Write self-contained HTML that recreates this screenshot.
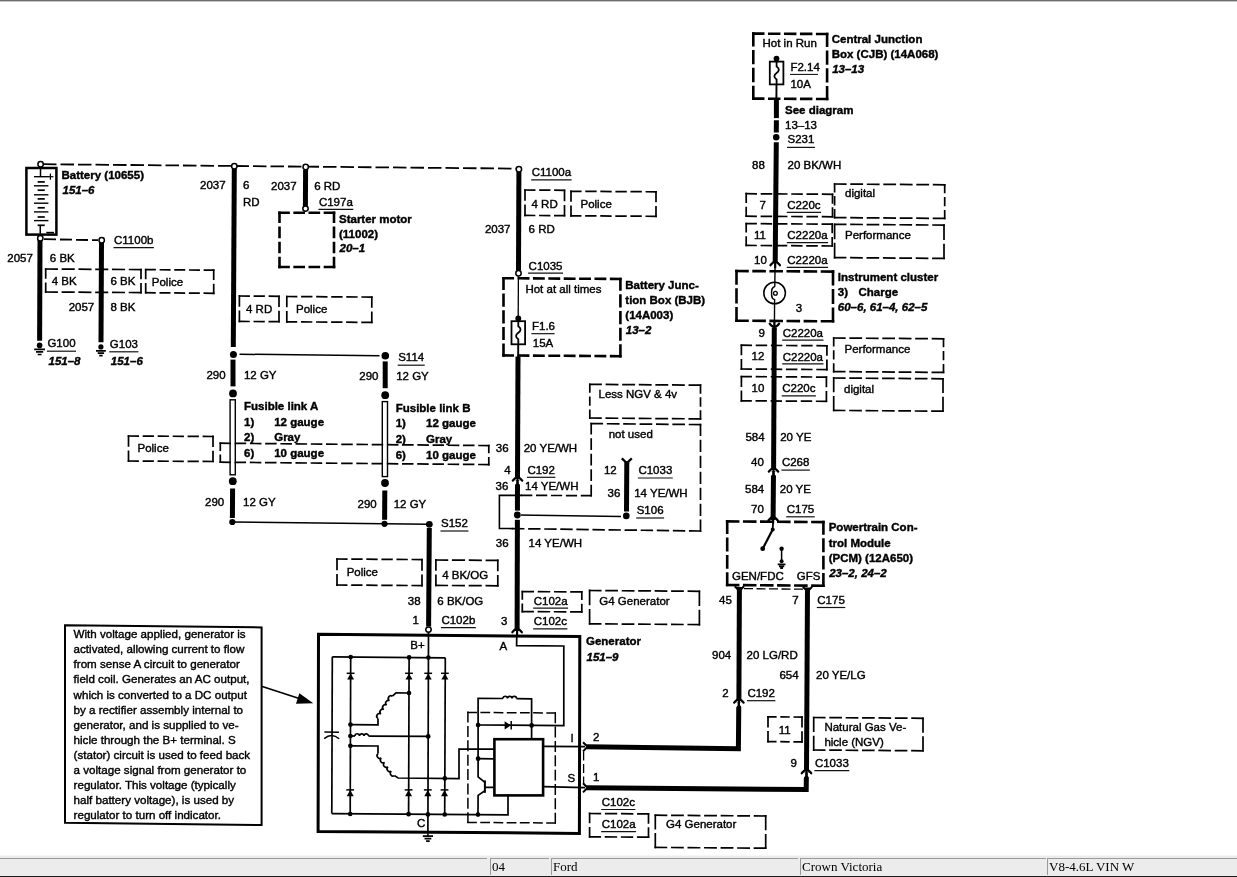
<!DOCTYPE html>
<html><head><meta charset="utf-8"><title>Charging system wiring diagram</title>
<style>
html,body{margin:0;padding:0;background:#fff;}
body{width:1237px;height:877px;overflow:hidden;position:relative;font-family:"Liberation Sans",sans-serif;}
svg{position:absolute;left:0;top:0;will-change:transform;}
svg text{font-family:"Liberation Sans",sans-serif;font-size:11.5px;fill:#000;stroke:#000;stroke-width:0.4px;}
svg text.b{font-weight:bold;}
svg text.i{font-style:italic;}
.w{stroke:#000;stroke-width:5;fill:none;stroke-linejoin:miter;}
.l{stroke:#000;fill:none;}
.d{stroke:#000;fill:none;}
.ul{stroke:#111;stroke-width:1.2;fill:none;}
.o{fill:#fff;stroke:#000;stroke-width:1.5;}
#top{position:absolute;left:0;top:0;width:1237px;height:1px;background:#6b6b6b;border-bottom:1px solid #c8c8c8;}
#sb{position:absolute;left:0;top:855px;width:1237px;height:20px;background:#ececec;border-top:1px solid #f6f6f6;border-bottom:2px solid #1c1c1c;font-family:"Liberation Serif",serif;font-size:13px;color:#000;will-change:transform;}
#sb div{position:absolute;top:2px;height:17px;border-left:1px solid #9a9a9a;border-top:1px solid #9a9a9a;line-height:16px;padding-left:1px;box-sizing:border-box;white-space:nowrap;}
</style></head><body>
<svg width="1237" height="877" viewBox="0 0 1237 877">
<path class="d" stroke-width="1.8" stroke-dasharray="13.5 4" d="M43 164.2L516 168.6"/>
<rect class="l" stroke-width="2.5" fill="#fff" x="26.4" y="168" width="30" height="66.6"/>
<path class="l" stroke-width="1.5" d="M40.5 166.0 L40.5 176.7"/>
<path class="l" stroke-width="1.5" d="M40.3 225.3 L40.2 236.0"/>
<path class="l" stroke-width="1.4" d="M34.0 176.7 L48.4 176.7"/>
<path class="l" stroke-width="1.7" d="M37.6 181.9 L44.8 181.9"/>
<path class="l" stroke-width="1.4" d="M34.0 185.8 L48.4 185.8"/>
<path class="l" stroke-width="1.7" d="M37.6 190.2 L44.8 190.2"/>
<path class="l" stroke-width="1.4" d="M34.0 194.8 L48.4 194.8"/>
<path class="l" stroke-width="1.7" d="M37.6 198.9 L44.8 198.9"/>
<path class="l" stroke-width="1.4" d="M34.0 203.2 L48.4 203.2"/>
<path class="l" stroke-width="1.7" d="M37.6 207.8 L44.8 207.8"/>
<path class="l" stroke-width="1.4" d="M34.0 211.9 L48.4 211.9"/>
<path class="l" stroke-width="1.7" d="M37.6 217.0 L44.8 217.0"/>
<path class="l" stroke-width="1.4" d="M34.0 220.6 L48.4 220.6"/>
<path class="l" stroke-width="1.7" d="M37.6 225.3 L44.8 225.3"/>
<path class="l" stroke-width="1.2" d="M48.0 176.7 L53.4 176.7"/>
<path class="l" stroke-width="1.2" d="M50.4 173.4 L50.4 179.8"/>
<path class="l" stroke-width="1.6" d="M46.3 232.6 L54.0 232.6"/>
<circle class="o" cx="40.6" cy="164.2" r="2.7"/>
<text x="61.5" y="178.7" class="b">Battery (10655)</text>
<text x="62.5" y="193.7" class="b i">151–6</text>
<path class="w" d="M40.0 240.0 L39.6 340.8"/>
<circle class="o" cx="40.3" cy="238.3" r="2.7"/>
<path class="d" stroke-width="1.8" stroke-dasharray="12 4" d="M44 239.2L98 240.2"/>
<path class="w" d="M101.5 243.0 L101.0 342.2"/>
<circle class="o" cx="101.7" cy="240.3" r="2.7"/>
<text x="114.0" y="243.5">C1100b</text>
<path class="ul" d="M113.5 247.7H153.9"/>
<text x="7.3" y="261.6">2057</text>
<text x="49.8" y="261.6">6 BK</text>
<path class="d" stroke-width="1.7" stroke-dasharray="13.08 3.70" d="M44.9 269.0L141.8 269.6"/>
<path class="d" stroke-width="1.7" stroke-dasharray="10.50 3.70" d="M141.0 268.8L141.0 293.5"/>
<path class="d" stroke-width="1.7" stroke-dasharray="13.08 3.70" d="M141.8 292.6L44.9 292.0"/>
<path class="d" stroke-width="1.7" stroke-dasharray="10.50 3.70" d="M45.7 292.9L45.7 268.1"/>
<path class="d" stroke-width="1.7" stroke-dasharray="10.98 3.70" d="M144.9 269.6L214.5 270.2"/>
<path class="d" stroke-width="1.7" stroke-dasharray="10.55 3.70" d="M213.7 269.4L213.7 294.2"/>
<path class="d" stroke-width="1.7" stroke-dasharray="10.98 3.70" d="M214.5 293.3L144.9 292.7"/>
<path class="d" stroke-width="1.7" stroke-dasharray="10.55 3.70" d="M145.7 293.6L145.7 268.8"/>
<text x="51.7" y="284.8">4 BK</text>
<text x="110.5" y="285.2">6 BK</text>
<text x="151.8" y="285.5">Police</text>
<text x="68.7" y="310.8">2057</text>
<text x="110.5" y="311.2">8 BK</text>
<circle cx="39.6" cy="345.4" r="2.8"/>
<path class="l" stroke-width="1.7" d="M34.2 349.3H45.0M36.0 351.9H43.2M37.7 354.5H41.5"/>
<circle cx="100.9" cy="346.9" r="2.6"/>
<path class="l" stroke-width="1.7" d="M96.0 350.9H105.8M97.7 353.2H104.1M99.2 355.6H102.6"/>
<text x="47.4" y="347.2">G100</text>
<path class="ul" d="M46.9 351.2H76.0"/>
<text x="48.5" y="364.5" class="b i">151–8</text>
<text x="109.8" y="347.8">G103</text>
<path class="ul" d="M109.3 351.8H138.4"/>
<text x="110.8" y="365.1" class="b i">151–6</text>
<path class="w" d="M234.3 169.0 L233.3 347.0"/>
<circle class="o" cx="234.3" cy="166.3" r="2.7"/>
<text x="200.0" y="188.9">2037</text>
<text x="243.0" y="188.9">6</text>
<text x="243.0" y="206.4">RD</text>
<path class="w" d="M305.6 170.0 L305.4 206.0"/>
<circle class="o" cx="305.7" cy="167.0" r="2.7"/>
<circle class="o" cx="305.5" cy="208.6" r="2.7"/>
<text x="271.0" y="190.0">2037</text>
<text x="314.2" y="190.0">6 RD</text>
<text x="318.9" y="205.9">C197a</text>
<path class="ul" d="M318.4 209.3H353.3"/>
<path class="d" stroke-width="2.6" stroke-dasharray="11.65 3.50" d="M278.2 212.8L335.3 212.8"/>
<path class="d" stroke-width="2.6" stroke-dasharray="11.57 3.50" d="M334.0 211.5L334.0 268.3"/>
<path class="d" stroke-width="2.6" stroke-dasharray="11.65 3.50" d="M335.3 267.0L278.2 267.0"/>
<path class="d" stroke-width="2.6" stroke-dasharray="11.57 3.50" d="M279.5 268.3L279.5 211.5"/>
<text x="339.0" y="222.9" class="b">Starter motor</text>
<text x="339.0" y="238.0" class="b">(11002)</text>
<text x="339.5" y="252.0" class="b i">20–1</text>
<path class="d" stroke-width="1.7" stroke-dasharray="11.30 3.70" d="M238.6 296.0L279.8 296.3"/>
<path class="d" stroke-width="1.7" stroke-dasharray="11.70 3.70" d="M279.0 295.4L279.0 322.6"/>
<path class="d" stroke-width="1.7" stroke-dasharray="11.30 3.70" d="M279.8 321.7L238.6 321.4"/>
<path class="d" stroke-width="1.7" stroke-dasharray="11.70 3.70" d="M239.4 322.2L239.4 295.1"/>
<path class="d" stroke-width="1.7" stroke-dasharray="11.37 3.70" d="M286.0 296.5L372.6 297.1"/>
<path class="d" stroke-width="1.7" stroke-dasharray="11.65 3.70" d="M371.8 296.2L371.8 323.3"/>
<path class="d" stroke-width="1.7" stroke-dasharray="11.37 3.70" d="M372.6 322.4L286.0 321.8"/>
<path class="d" stroke-width="1.7" stroke-dasharray="11.65 3.70" d="M286.8 322.7L286.8 295.6"/>
<text x="246.0" y="313.2">4 RD</text>
<text x="296.0" y="313.4">Police</text>
<path class="l" stroke-width="1.5" d="M239.5 354.2 L379.5 355.8"/>
<circle cx="233.4" cy="354.4" r="3.5"/>
<circle cx="385.3" cy="355.7" r="3.8"/>
<text x="398.2" y="361.4">S114</text>
<path class="ul" d="M397.7 365.2H424.7"/>
<path class="w" d="M233.0 359.6 L233.0 386.4"/>
<circle cx="233.0" cy="393.4" r="3.9"/>
<rect class="l" stroke-width="1.4" fill="#fff" x="230.1" y="399.8" width="5.2" height="75"/>
<circle cx="232.8" cy="481.2" r="3.9"/>
<path class="w" d="M232.6 488.6 L232.4 518.0"/>
<circle cx="232.3" cy="522.0" r="3.1"/>
<path class="w" d="M385.2 361.4 L385.2 388.2"/>
<circle cx="385.2" cy="395.2" r="3.9"/>
<rect class="l" stroke-width="1.4" fill="#fff" x="382.3" y="401.6" width="5.2" height="75"/>
<circle cx="385.0" cy="483.0" r="3.9"/>
<path class="w" d="M384.8 490.4 L384.6 519.8"/>
<circle cx="384.5" cy="523.8" r="3.1"/>
<text x="206.4" y="378.9">290</text>
<text x="243.9" y="378.9">12 GY</text>
<text x="359.3" y="380.2">290</text>
<text x="396.2" y="380.4">12 GY</text>
<text x="244.0" y="410.0" class="b">Fusible link A</text>
<text x="244.0" y="425.6" class="b">1)</text>
<text x="274.2" y="425.6" class="b">12 gauge</text>
<text x="244.0" y="440.8" class="b">2)</text>
<text x="274.2" y="440.8" class="b">Gray</text>
<text x="244.0" y="457.0" class="b">6)</text>
<text x="274.2" y="457.0" class="b">10 gauge</text>
<text x="395.7" y="411.7" class="b">Fusible link B</text>
<text x="395.7" y="427.3" class="b">1)</text>
<text x="426.0" y="427.3" class="b">12 gauge</text>
<text x="395.7" y="442.6" class="b">2)</text>
<text x="426.0" y="442.6" class="b">Gray</text>
<text x="395.7" y="458.7" class="b">6)</text>
<text x="426.0" y="458.7" class="b">10 gauge</text>
<path class="d" stroke-width="1.7" stroke-dasharray="11.28 3.70" d="M127.7 436.0L213.8 436.5"/>
<path class="d" stroke-width="1.7" stroke-dasharray="11.50 3.70" d="M213.0 435.6L213.0 462.4"/>
<path class="d" stroke-width="1.7" stroke-dasharray="11.28 3.70" d="M213.8 461.5L127.7 461.0"/>
<path class="d" stroke-width="1.7" stroke-dasharray="11.50 3.70" d="M128.5 461.9L128.5 435.1"/>
<text x="137.5" y="451.7">Police</text>
<path class="d" stroke-width="1.7" stroke-dasharray="11.52 3.70" d="M219.5 443.2L489.6 445.6"/>
<path class="d" stroke-width="1.7" stroke-dasharray="8.50 3.70" d="M488.8 444.7L488.8 465.4"/>
<path class="d" stroke-width="1.7" stroke-dasharray="11.52 3.70" d="M489.6 464.6L219.5 462.2"/>
<path class="d" stroke-width="1.7" stroke-dasharray="8.50 3.70" d="M220.3 463.1L220.3 442.3"/>
<text x="205.0" y="506.0">290</text>
<text x="243.0" y="506.2">12 GY</text>
<text x="357.5" y="507.6">290</text>
<text x="393.7" y="507.8">12 GY</text>
<path class="l" stroke-width="1.4" d="M232.4 522.0 L384.5 523.8 L429.3 524.3"/>
<circle cx="429.3" cy="524.3" r="3.4"/>
<text x="441.0" y="527.2">S152</text>
<path class="ul" d="M440.5 531.0H468.4"/>
<path class="w" d="M429.3 528.0 L428.6 626.5"/>
<path class="d" stroke-width="1.7" stroke-dasharray="11.37 3.70" d="M336.2 559.0L422.8 559.6"/>
<path class="d" stroke-width="1.7" stroke-dasharray="12.00 3.70" d="M422.0 558.8L422.0 586.5"/>
<path class="d" stroke-width="1.7" stroke-dasharray="11.37 3.70" d="M422.8 585.6L336.2 585.0"/>
<path class="d" stroke-width="1.7" stroke-dasharray="12.00 3.70" d="M337.0 585.9L337.0 558.1"/>
<path class="d" stroke-width="1.7" stroke-dasharray="13.13 3.70" d="M435.1 560.0L498.6 560.4"/>
<path class="d" stroke-width="1.7" stroke-dasharray="11.70 3.70" d="M497.8 559.5L497.8 586.6"/>
<path class="d" stroke-width="1.7" stroke-dasharray="13.13 3.70" d="M498.6 585.8L435.1 585.4"/>
<path class="d" stroke-width="1.7" stroke-dasharray="11.70 3.70" d="M435.9 586.2L435.9 559.1"/>
<text x="346.7" y="576.3">Police</text>
<text x="442.2" y="578.7">4 BK/OG</text>
<text x="407.8" y="605.0">38</text>
<text x="437.3" y="605.3">6 BK/OG</text>
<text x="412.6" y="623.9">1</text>
<text x="441.4" y="623.9">C102b</text>
<path class="ul" d="M440.9 627.7H475.8"/>
<path class="w" d="M518.9 172.0 L518.5 270.5"/>
<circle class="o" cx="518.9" cy="169.2" r="2.7"/>
<text x="531.7" y="176.0">C1100a</text>
<path class="ul" d="M531.2 179.8H571.6"/>
<path class="d" stroke-width="1.7" stroke-dasharray="11.27 3.70" d="M524.2 190.0L565.3 190.3"/>
<path class="d" stroke-width="1.7" stroke-dasharray="11.70 3.70" d="M564.5 189.5L564.5 216.6"/>
<path class="d" stroke-width="1.7" stroke-dasharray="11.27 3.70" d="M565.3 215.7L524.2 215.4"/>
<path class="d" stroke-width="1.7" stroke-dasharray="11.70 3.70" d="M525.0 216.2L525.0 189.2"/>
<path class="d" stroke-width="1.7" stroke-dasharray="11.37 3.70" d="M570.2 191.3L656.8 191.8"/>
<path class="d" stroke-width="1.7" stroke-dasharray="11.25 3.70" d="M656.0 191.0L656.0 217.2"/>
<path class="d" stroke-width="1.7" stroke-dasharray="11.37 3.70" d="M656.8 216.3L570.2 215.8"/>
<path class="d" stroke-width="1.7" stroke-dasharray="11.25 3.70" d="M571.0 216.7L571.0 190.5"/>
<text x="531.5" y="207.5">4 RD</text>
<text x="580.5" y="208.3">Police</text>
<text x="484.9" y="233.3">2037</text>
<text x="528.6" y="233.3">6 RD</text>
<text x="528.6" y="269.5">C1035</text>
<path class="ul" d="M528.1 273.1H563.0"/>
<path class="d" stroke-width="2.6" stroke-dasharray="11.88 3.50" d="M502.2 278.2L621.7 279.0"/>
<path class="d" stroke-width="2.6" stroke-dasharray="13.16 3.50" d="M620.4 277.7L620.4 357.5"/>
<path class="d" stroke-width="2.6" stroke-dasharray="11.88 3.50" d="M621.7 356.2L502.2 355.4"/>
<path class="d" stroke-width="2.6" stroke-dasharray="13.16 3.50" d="M503.5 356.7L503.5 276.9"/>
<circle class="o" cx="518.5" cy="273.2" r="2.7"/>
<path class="l" stroke-width="1.3" d="M518.4 276.0 L518.2 318.0"/>
<text x="525.4" y="293.3">Hot at all times</text>
<rect class="l" stroke-width="1.8" fill="#fff" x="511.5" y="321.2" width="13.6" height="23.1"/>
<path class="l" stroke-width="1.8" d="M518.3 321.2V326.3Q522.8 329.5 518.3 332.8Q513.8 336.0 518.3 339.2V344.3"/>
<circle cx="518.3" cy="318.4" r="2.9"/>
<text x="532.0" y="330.2">F1.6</text>
<path class="l" stroke-width="1.1" d="M531.4 333.7 L554.6 333.7"/>
<text x="532.8" y="346.9">15A</text>
<text x="625.3" y="288.5" class="b">Battery Junc-</text>
<text x="625.3" y="304.2" class="b">tion Box (BJB)</text>
<text x="625.3" y="319.3" class="b">(14A003)</text>
<text x="625.8" y="333.6" class="b i">13–2</text>
<path class="l" stroke-width="1.9" d="M518.2 344.3 L518.2 358.0"/>
<path class="w" d="M518.0 356.5 L517.5 477.5"/>
<path class="w" d="M517.5 480.0 L517.1 631.0"/>
<path fill="#fff" d="M513.9 480.2L516.4 480.2L516.4 483.2L513.9 486.2ZM521.1 480.2L518.6 480.2L518.6 483.2L521.1 486.2Z"/>
<path class="l" stroke-width="2.3" stroke-linecap="round" d="M512.8 480.6Q517.5 474.0 522.2 480.6"/>
<path class="l" stroke-width="2.2" d="M517.5 476.6V483.6"/>
<text x="495.8" y="451.7">36</text>
<text x="523.7" y="451.7">20 YE/WH</text>
<text x="504.3" y="473.7">4</text>
<text x="527.4" y="473.7">C192</text>
<path class="ul" d="M526.9 477.3H555.4"/>
<text x="495.6" y="490.0">36</text>
<text x="525.0" y="490.3">14 YE/WH</text>
<text x="495.8" y="546.8">36</text>
<text x="528.6" y="547.2">14 YE/WH</text>
<path class="d" stroke-width="1.7" stroke-dasharray="12.89 3.70" d="M589.0 384.3L701.3 385.2"/>
<path class="d" stroke-width="1.7" stroke-dasharray="9.33 3.70" d="M700.5 384.3L700.5 419.8"/>
<path class="d" stroke-width="1.7" stroke-dasharray="12.89 3.70" d="M701.3 418.9L589.0 418.0"/>
<path class="d" stroke-width="1.7" stroke-dasharray="9.33 3.70" d="M589.8 418.9L589.8 383.4"/>
<text x="598.5" y="397.6">Less NGV &amp; 4v</text>
<path class="d" stroke-width="1.7" stroke-dasharray="11.78 3.70" d="M591.2 496.5L591.2 422.8"/>
<path class="d" stroke-width="1.7" stroke-dasharray="12.69 3.70" d="M590.4 423.6L701.3 424.6"/>
<path class="d" stroke-width="1.7" stroke-dasharray="12.27 3.70" d="M700.5 423.8L700.5 531.9"/>
<path class="d" stroke-width="1.7" stroke-dasharray="12.38 3.70" d="M701.3 531.0L512.2 528.6"/>
<path class="d" stroke-width="1.7" stroke-dasharray="11.22 3.70" d="M592.0 495.6L521.2 495.4"/>
<path class="l" stroke-width="1.6" d="M522.0 495.4 L499.4 495.4 L499.4 528.4 L513.0 528.6"/>
<text x="608.7" y="437.7">not used</text>
<path class="w" stroke-width="5.6" d="M626.8 461.5 L626.5 511.6"/>
<path class="l" stroke-width="2.3" d="M621.8 458.4 L626.8 463.0 L631.8 458.4"/>
<text x="603.9" y="474.2">12</text>
<text x="638.4" y="474.2">C1033</text>
<path class="ul" d="M637.9 478.0H672.8"/>
<text x="607.5" y="496.5">36</text>
<text x="634.2" y="496.8">14 YE/WH</text>
<text x="636.7" y="514.2">S106</text>
<path class="ul" d="M636.2 518.0H664.1"/>
<path class="l" stroke-width="1.5" d="M517.4 515.0 L621.0 516.4"/>
<circle cx="626.3" cy="515.9" r="3.3"/>
<rect x="514" y="510.6" width="7" height="9.2" fill="#fff"/>
<circle cx="517.3" cy="515.0" r="3.4"/>
<path class="d" stroke-width="1.7" stroke-dasharray="12.53 3.70" d="M521.5 591.6L582.6 591.9"/>
<path class="d" stroke-width="1.7" stroke-dasharray="9.00 3.70" d="M581.8 591.0L581.8 612.8"/>
<path class="d" stroke-width="1.7" stroke-dasharray="12.53 3.70" d="M582.6 611.9L521.5 611.6"/>
<path class="d" stroke-width="1.7" stroke-dasharray="9.00 3.70" d="M522.3 612.5L522.3 590.8"/>
<path class="d" stroke-width="1.7" stroke-dasharray="12.76 3.70" d="M588.8 590.5L700.2 591.3"/>
<path class="d" stroke-width="1.7" stroke-dasharray="15.65 3.70" d="M699.4 590.4L699.4 625.4"/>
<path class="d" stroke-width="1.7" stroke-dasharray="12.76 3.70" d="M700.2 624.6L588.8 623.8"/>
<path class="d" stroke-width="1.7" stroke-dasharray="15.65 3.70" d="M589.6 624.6L589.6 589.6"/>
<text x="533.7" y="604.8">C102a</text>
<path class="ul" d="M533.2 608.2H568.1"/>
<text x="599.3" y="604.8">G4 Generator</text>
<text x="501.0" y="625.0">3</text>
<text x="533.7" y="625.0">C102c</text>
<path class="ul" d="M533.2 628.8H567.4"/>
<path class="d" stroke-width="2.6" stroke-dasharray="12.48 3.50" d="M752.0 33.6L828.4 34.0"/>
<path class="d" stroke-width="2.6" stroke-dasharray="14.27 3.50" d="M827.1 32.7L827.1 100.3"/>
<path class="d" stroke-width="2.6" stroke-dasharray="12.48 3.50" d="M828.4 99.0L752.0 98.6"/>
<path class="d" stroke-width="2.6" stroke-dasharray="14.27 3.50" d="M753.3 99.9L753.3 32.3"/>
<text x="762.5" y="46.7">Hot in Run</text>
<path class="l" stroke-width="1.3" d="M776.4 58.4 L776.4 61.8"/>
<rect class="l" stroke-width="1.8" fill="#fff" x="769.8" y="61.6" width="13.6" height="22.8"/>
<path class="l" stroke-width="1.8" d="M776.6 61.6V66.6Q781.1 69.8 776.6 73.0Q772.1 76.2 776.6 79.4V84.4"/>
<circle cx="776.5" cy="58.6" r="2.9"/>
<path class="l" stroke-width="1.9" d="M776.5 84.4 L776.4 99.0"/>
<text x="790.4" y="70.5">F2.14</text>
<path class="l" stroke-width="1" d="M790.0 74.4 L818.0 74.4"/>
<text x="790.4" y="87.5">10A</text>
<text x="831.7" y="43.0" class="b">Central Junction</text>
<text x="831.7" y="58.4" class="b">Box (CJB) (14A068)</text>
<text x="832.2" y="73.0" class="b i">13–13</text>
<path class="w" stroke-width="4.9" d="M776.4 98.0 L776.4 118.1"/>
<path class="w" stroke-width="4.9" d="M776.4 120.2 L776.3 132.5"/>
<circle cx="776.2" cy="137.3" r="3.25"/>
<text x="785.0" y="113.5" class="b">See diagram</text>
<text x="785.0" y="128.8">13–13</text>
<text x="787.5" y="143.4">S231</text>
<path class="ul" d="M787.0 147.4H814.9"/>
<path class="w" d="M776.3 142.3 L775.2 262.5"/>
<text x="752.0" y="168.7">88</text>
<text x="787.5" y="168.7">20 BK/WH</text>
<path class="d" stroke-width="1.7" stroke-dasharray="11.58 3.70" d="M745.4 193.7L833.3 194.3"/>
<path class="d" stroke-width="1.7" stroke-dasharray="10.25 3.70" d="M832.5 193.4L832.5 217.6"/>
<path class="d" stroke-width="1.7" stroke-dasharray="11.58 3.70" d="M833.3 216.8L745.4 216.2"/>
<path class="d" stroke-width="1.7" stroke-dasharray="10.25 3.70" d="M746.2 217.0L746.2 192.8"/>
<path class="d" stroke-width="1.7" stroke-dasharray="12.80 3.70" d="M833.8 184.0L945.5 184.8"/>
<path class="d" stroke-width="1.7" stroke-dasharray="9.30 3.70" d="M944.7 184.0L944.7 219.2"/>
<path class="d" stroke-width="1.7" stroke-dasharray="12.80 3.70" d="M945.5 218.4L833.8 217.6"/>
<path class="d" stroke-width="1.7" stroke-dasharray="9.30 3.70" d="M834.6 218.4L834.6 183.2"/>
<text x="759.6" y="209.0">7</text>
<text x="787.3" y="209.0">C220c</text>
<path class="ul" d="M786.8 212.4H821.0"/>
<text x="845.0" y="196.8">digital</text>
<path class="d" stroke-width="1.7" stroke-dasharray="11.53 3.70" d="M745.4 223.6L833.0 224.2"/>
<path class="d" stroke-width="1.7" stroke-dasharray="9.90 3.70" d="M832.2 223.3L832.2 246.8"/>
<path class="d" stroke-width="1.7" stroke-dasharray="11.53 3.70" d="M833.0 246.0L745.4 245.4"/>
<path class="d" stroke-width="1.7" stroke-dasharray="9.90 3.70" d="M746.2 246.2L746.2 222.8"/>
<path class="d" stroke-width="1.7" stroke-dasharray="12.70 3.70" d="M833.8 224.3L944.8 225.1"/>
<path class="d" stroke-width="1.7" stroke-dasharray="15.65 3.70" d="M944.0 224.3L944.0 259.3"/>
<path class="d" stroke-width="1.7" stroke-dasharray="12.70 3.70" d="M944.8 258.4L833.8 257.6"/>
<path class="d" stroke-width="1.7" stroke-dasharray="15.65 3.70" d="M834.6 258.5L834.6 223.5"/>
<text x="754.0" y="239.3">11</text>
<text x="787.3" y="239.3">C2220a</text>
<path class="ul" d="M786.8 242.7H828.1"/>
<text x="845.0" y="239.3">Performance</text>
<text x="754.0" y="263.6">10</text>
<text x="787.3" y="263.6">C2220a</text>
<path class="ul" d="M786.8 267.4H828.1"/>
<path class="l" stroke-width="2.3" stroke-linecap="round" d="M770.5 265.2Q775.2 258.6 779.9 265.2"/>
<path class="l" stroke-width="2.2" d="M775.2 261.2V268.2"/>
<path class="d" stroke-width="2.6" stroke-dasharray="13.60 3.50" d="M735.2 271.0L834.3 271.6"/>
<path class="d" stroke-width="2.6" stroke-dasharray="15.10 3.50" d="M833.0 270.3L833.0 322.6"/>
<path class="d" stroke-width="2.6" stroke-dasharray="13.60 3.50" d="M834.3 321.3L735.2 320.7"/>
<path class="d" stroke-width="2.6" stroke-dasharray="15.10 3.50" d="M736.5 322.0L736.5 269.7"/>
<circle class="l" stroke-width="1.5" fill="#fff" cx="774.6" cy="293" r="10.8"/>
<path class="l" stroke-width="1.4" d="M775.1 264L774.8 286.4Q771.6 288 771.6 291L771.6 295.4Q771.8 298.6 774.6 299.6L774.4 326"/>
<circle class="l" stroke-width="1.3" cx="775.4" cy="293.3" r="1.9"/>
<text x="795.8" y="311.7">3</text>
<text x="837.8" y="281.4" class="b">Instrument cluster</text>
<text x="837.8" y="296.0" class="b">3)</text>
<text x="858.5" y="296.0" class="b">Charge</text>
<text x="837.8" y="311.2" class="b i">60–6, 61–4, 62–5</text>
<path class="w" d="M774.3 327.4 L773.6 468.0"/>
<path class="l" stroke-width="2.3" stroke-linecap="round" d="M769.7 323.6Q774.4 330.2 779.1 323.6"/>
<path class="l" stroke-width="2.2" d="M774.4 327.6V320.6"/>
<text x="758.4" y="336.5">9</text>
<text x="782.7" y="336.5">C2220a</text>
<path class="ul" d="M782.2 340.1H823.5"/>
<path class="d" stroke-width="1.7" stroke-dasharray="11.45 3.70" d="M740.6 345.2L827.7 345.8"/>
<path class="d" stroke-width="1.7" stroke-dasharray="10.90 3.70" d="M826.9 344.9L826.9 370.5"/>
<path class="d" stroke-width="1.7" stroke-dasharray="11.45 3.70" d="M827.7 369.6L740.6 369.0"/>
<path class="d" stroke-width="1.7" stroke-dasharray="10.90 3.70" d="M741.4 369.9L741.4 344.3"/>
<path class="d" stroke-width="1.7" stroke-dasharray="12.76 3.70" d="M832.9 338.0L944.3 338.8"/>
<path class="d" stroke-width="1.7" stroke-dasharray="9.30 3.70" d="M943.5 337.9L943.5 373.3"/>
<path class="d" stroke-width="1.7" stroke-dasharray="12.76 3.70" d="M944.3 372.4L832.9 371.6"/>
<path class="d" stroke-width="1.7" stroke-dasharray="9.30 3.70" d="M833.7 372.5L833.7 337.1"/>
<text x="751.6" y="360.3">12</text>
<text x="782.7" y="360.5">C2220a</text>
<path class="ul" d="M782.2 363.9H823.5"/>
<text x="844.5" y="352.5">Performance</text>
<path class="d" stroke-width="1.7" stroke-dasharray="11.37 3.70" d="M740.6 376.6L827.2 377.1"/>
<path class="d" stroke-width="1.7" stroke-dasharray="11.10 3.70" d="M826.4 376.2L826.4 402.2"/>
<path class="d" stroke-width="1.7" stroke-dasharray="11.37 3.70" d="M827.2 401.3L740.6 400.8"/>
<path class="d" stroke-width="1.7" stroke-dasharray="11.10 3.70" d="M741.4 401.7L741.4 375.8"/>
<path class="d" stroke-width="1.7" stroke-dasharray="12.69 3.70" d="M832.9 378.0L943.8 378.8"/>
<path class="d" stroke-width="1.7" stroke-dasharray="15.20 3.70" d="M943.0 377.9L943.0 412.1"/>
<path class="d" stroke-width="1.7" stroke-dasharray="12.69 3.70" d="M943.8 411.2L832.9 410.4"/>
<path class="d" stroke-width="1.7" stroke-dasharray="15.20 3.70" d="M833.7 411.2L833.7 377.1"/>
<text x="751.6" y="391.9">10</text>
<text x="782.2" y="392.2">C220c</text>
<path class="ul" d="M781.7 395.8H815.9"/>
<text x="844.0" y="393.0">digital</text>
<text x="745.4" y="440.6">584</text>
<text x="780.2" y="440.6">20 YE</text>
<text x="751.0" y="466.3">40</text>
<text x="781.9" y="466.3">C268</text>
<path class="ul" d="M781.4 470.1H809.9"/>
<path class="w" d="M773.5 471.0 L773.1 520.0"/>
<path fill="#fff" d="M769.9 471.2L772.4 471.2L772.4 474.2L769.9 477.2ZM777.1 471.2L774.6 471.2L774.6 474.2L777.1 477.2Z"/>
<path class="l" stroke-width="2.3" stroke-linecap="round" d="M768.8 471.6Q773.5 465.0 778.2 471.6"/>
<path class="l" stroke-width="2.2" d="M773.5 467.6V474.6"/>
<text x="745.0" y="493.0">584</text>
<text x="779.8" y="493.0">20 YE</text>
<text x="751.0" y="513.0">70</text>
<text x="786.7" y="513.0">C175</text>
<path class="ul" d="M786.2 516.8H814.7"/>
<path class="l" stroke-width="2.3" stroke-linecap="round" d="M768.4 520.5Q773.1 513.9 777.8 520.5"/>
<path class="l" stroke-width="2.2" d="M773.1 516.5V523.5"/>
<path class="d" stroke-width="2.6" stroke-dasharray="13.55 3.50" d="M725.9 521.4L824.7 522.1"/>
<path class="d" stroke-width="2.6" stroke-dasharray="13.93 3.50" d="M823.4 520.8L823.4 587.0"/>
<path class="d" stroke-width="2.6" stroke-dasharray="13.55 3.50" d="M824.7 585.7L725.9 585.0"/>
<path class="d" stroke-width="2.6" stroke-dasharray="13.93 3.50" d="M727.2 586.3L727.2 520.1"/>
<path class="l" stroke-width="1.8" d="M773.2 519.0 L772.7 529.5"/>
<path class="l" stroke-width="2.2" d="M772.7 529.5 L762.7 548.7"/>
<circle cx="772.7" cy="529.5" r="2"/>
<circle cx="762.7" cy="548.7" r="2.4"/>
<circle cx="781.6" cy="548.7" r="2.2"/>
<path class="l" stroke-width="1.5" d="M781.6 548.7 L781.6 561.6"/>
<circle cx="781.6" cy="561.3" r="2"/>
<path class="l" stroke-width="1.7" d="M777.7 564.4H785.5M779.0 566.3H784.2M780.2 568.1H783.0"/>
<text x="732.0" y="579.7">GEN/FDC</text>
<text x="796.7" y="579.9">GFS</text>
<text x="828.7" y="531.0" class="b">Powertrain Con-</text>
<text x="828.7" y="547.0" class="b">trol Module</text>
<text x="828.7" y="562.0" class="b">(PCM) (12A650)</text>
<text x="829.2" y="577.3" class="b i">23–2, 24–2</text>
<path class="w" stroke-width="5.8" d="M739.4 587.0 L738.9 699.5"/>
<path class="w" stroke-width="5.8" d="M738.8 702.0 L738.4 748.7 L586.5 746.8"/>
<path fill="#fff" d="M735.3 702.2L737.8 702.2L737.8 705.2L735.3 708.2ZM742.5 702.2L740.0 702.2L740.0 705.2L742.5 708.2Z"/>
<path class="l" stroke-width="2.3" stroke-linecap="round" d="M734.2 702.6Q738.9 696.0 743.6 702.6"/>
<path class="l" stroke-width="2.2" d="M738.9 698.6V705.6"/>
<path class="l" stroke-width="2" d="M734.8 586.2 L739.4 591.0 L744.0 586.2"/>
<path class="w" stroke-width="5.8" d="M807.5 587.5 L806.5 770.0"/>
<path class="w" stroke-width="5.8" d="M806.4 772.5 L806.2 789.6 L586.5 787.8"/>
<path fill="#fff" d="M802.9 772.8L805.4 772.8L805.4 775.8L802.9 778.8ZM810.1 772.8L807.6 772.8L807.6 775.8L810.1 778.8Z"/>
<path class="l" stroke-width="2.3" stroke-linecap="round" d="M801.8 773.2Q806.5 766.6 811.2 773.2"/>
<path class="l" stroke-width="2.2" d="M806.5 769.2V776.2"/>
<path class="l" stroke-width="2" d="M802.9 586.8 L807.5 591.6 L812.1 586.8"/>
<path class="d" stroke-width="1.3" stroke-dasharray="9 3.5" d="M744 588.6L803 589.2"/>
<text x="719.0" y="603.5">45</text>
<text x="792.3" y="603.5">7</text>
<text x="817.3" y="603.7">C175</text>
<path class="ul" d="M816.8 607.5H845.3"/>
<text x="712.0" y="658.7">904</text>
<text x="746.6" y="658.7">20 LG/RD</text>
<text x="779.4" y="678.7">654</text>
<text x="816.0" y="678.9">20 YE/LG</text>
<text x="722.3" y="696.9">2</text>
<text x="747.4" y="696.9">C192</text>
<path class="ul" d="M746.9 700.7H775.4"/>
<path class="d" stroke-width="1.7" stroke-dasharray="9.43 3.70" d="M767.2 716.8L802.8 717.1"/>
<path class="d" stroke-width="1.7" stroke-dasharray="11.40 3.70" d="M802.0 716.2L802.0 742.8"/>
<path class="d" stroke-width="1.7" stroke-dasharray="9.43 3.70" d="M802.8 741.9L767.2 741.6"/>
<path class="d" stroke-width="1.7" stroke-dasharray="11.40 3.70" d="M768.0 742.5L768.0 715.9"/>
<path class="d" stroke-width="1.7" stroke-dasharray="12.69 3.70" d="M812.9 717.5L923.8 718.3"/>
<path class="d" stroke-width="1.7" stroke-dasharray="15.25 3.70" d="M923.0 717.4L923.0 751.6"/>
<path class="d" stroke-width="1.7" stroke-dasharray="12.69 3.70" d="M923.8 750.8L812.9 750.0"/>
<path class="d" stroke-width="1.7" stroke-dasharray="15.25 3.70" d="M813.7 750.9L813.7 716.6"/>
<text x="778.8" y="733.6">11</text>
<text x="824.4" y="731.4">Natural Gas Ve-</text>
<text x="824.4" y="746.2">hicle (NGV)</text>
<text x="790.4" y="766.8">9</text>
<text x="814.9" y="766.8">C1033</text>
<path class="ul" d="M814.4 770.6H849.3"/>
<path class="l" stroke-width="2" d="M583 742.2L587.6 746.8L583 751.4M583 783.2L587.6 787.8L583 792.4"/>
<path class="d" stroke-width="1.3" stroke-dasharray="9 3.5" d="M583.6 751.5L583.6 784"/>
<text x="593.0" y="741.0">2</text>
<text x="593.0" y="780.5">1</text>
<text x="601.7" y="805.5">C102c</text>
<path class="ul" d="M601.2 809.5H635.4"/>
<path class="d" stroke-width="1.7" stroke-dasharray="12.38 3.70" d="M588.8 813.5L649.3 813.9"/>
<path class="d" stroke-width="1.7" stroke-dasharray="10.65 3.70" d="M648.5 813.0L648.5 838.0"/>
<path class="d" stroke-width="1.7" stroke-dasharray="12.38 3.70" d="M649.3 837.2L588.8 836.8"/>
<path class="d" stroke-width="1.7" stroke-dasharray="10.65 3.70" d="M589.6 837.6L589.6 812.6"/>
<path class="d" stroke-width="1.7" stroke-dasharray="12.84 3.70" d="M654.5 815.2L766.5 816.0"/>
<path class="d" stroke-width="1.7" stroke-dasharray="15.10 3.70" d="M765.7 815.1L765.7 849.0"/>
<path class="d" stroke-width="1.7" stroke-dasharray="12.84 3.70" d="M766.5 848.2L654.5 847.4"/>
<path class="d" stroke-width="1.7" stroke-dasharray="15.10 3.70" d="M655.3 848.2L655.3 814.4"/>
<text x="601.7" y="827.8">C102a</text>
<path class="ul" d="M601.2 831.6H636.1"/>
<text x="666.0" y="827.8">G4 Generator</text>
<path class="l" stroke-width="3" stroke-linejoin="miter" d="M318.5 634.2L579.8 636.6L579.4 833.4L318.1 831.4Z"/>
<circle class="o" cx="428.5" cy="629.6" r="2.7"/>
<path class="l" stroke-width="2.3" stroke-linecap="round" d="M512.4 632.2Q517.1 625.6 521.8 632.2"/>
<path class="l" stroke-width="2.2" d="M517.1 628.2V635.2"/>
<text x="586.0" y="645.4" class="b">Generator</text>
<text x="586.5" y="660.8" class="b i">151–9</text>
<text x="410.3" y="648.8">B+</text>
<text x="499.5" y="649.8">A</text>
<text x="416.9" y="827.3">C</text>
<path class="l" stroke-width="1.7" d="M428.5 632.3 L427.9 832.0"/>
<path class="l" stroke-width="1.5" d="M427.9 833V836"/>
<path class="l" stroke-width="1.7" d="M422.8 836.2H433.0M424.5 838.7H431.3M426.1 841.1H429.7"/>
<path class="l" stroke-width="1.7" d="M332.3 656.8 L445.3 657.8"/>
<path class="l" stroke-width="1.7" d="M332.3 656.8 L331.8 813.6"/>
<path class="l" stroke-width="1.5" d="M324.4 732.1L339 732.3M324.2 738.6Q331.8 732.2 339.2 738.8"/>
<path class="l" stroke-width="1.7" d="M331.8 813.6 L508.0 814.8 L508.0 795.0"/>
<path d="M347.1 679.6L354.1 679.6L350.6 673.4Z"/>
<path class="l" stroke-width="1.5" d="M346.7 673.3 L354.5 673.3"/>
<path d="M346.7 796.2L353.7 796.2L350.2 790.0Z"/>
<path class="l" stroke-width="1.5" d="M346.3 789.9 L354.1 789.9"/>
<path d="M405.5 679.6L412.5 679.6L409.0 673.4Z"/>
<path class="l" stroke-width="1.5" d="M405.1 673.3 L412.9 673.3"/>
<path d="M405.1 796.2L412.1 796.2L408.6 790.0Z"/>
<path class="l" stroke-width="1.5" d="M404.7 789.9 L412.5 789.9"/>
<path d="M424.7 679.6L431.7 679.6L428.2 673.4Z"/>
<path class="l" stroke-width="1.5" d="M424.3 673.3 L432.1 673.3"/>
<path d="M424.3 796.2L431.3 796.2L427.8 790.0Z"/>
<path class="l" stroke-width="1.5" d="M423.9 789.9 L431.7 789.9"/>
<path d="M441.4 679.6L448.4 679.6L444.9 673.4Z"/>
<path class="l" stroke-width="1.5" d="M441.0 673.3 L448.8 673.3"/>
<path d="M441.0 796.2L448.0 796.2L444.5 790.0Z"/>
<path class="l" stroke-width="1.5" d="M440.6 789.9 L448.4 789.9"/>
<path class="l" stroke-width="1.7" d="M350.7 657.0 L350.2 814.0"/>
<path class="l" stroke-width="1.7" d="M409.1 657.4 L408.6 814.2"/>
<path class="l" stroke-width="1.7" d="M445.3 657.8 L444.7 814.5"/>
<circle cx="350.7" cy="657.0" r="2.35"/>
<circle cx="409.1" cy="657.4" r="2.35"/>
<circle cx="428.4" cy="657.6" r="2.35"/>
<circle cx="350.5" cy="724.6" r="2.35"/>
<circle cx="350.4" cy="736.0" r="2.35"/>
<circle cx="350.4" cy="745.8" r="2.35"/>
<circle cx="409.0" cy="693.0" r="2.35"/>
<circle cx="428.2" cy="736.4" r="2.35"/>
<circle cx="444.8" cy="778.4" r="2.35"/>
<circle cx="350.2" cy="814.0" r="2.35"/>
<circle cx="408.6" cy="814.2" r="2.35"/>
<circle cx="427.9" cy="814.4" r="2.35"/>
<circle cx="444.7" cy="814.5" r="2.35"/>
<path class="l" stroke-width="1.7" d="M350.5 724.6 L378.0 724.8 L378.0 718.5"/>
<path class="l" stroke-width="1.7" d="M378.0 718.5A2.65 2.65 -57.1 0 1 380.9 714.0A2.65 2.65 -57.1 0 1 383.8 709.6A2.65 2.65 -57.1 0 1 386.6 705.1A2.65 2.65 -57.1 0 1 389.5 700.7A2.65 2.65 -57.1 0 1 392.4 696.2"/>
<path class="l" stroke-width="1.7" d="M392.4 696.2 L396.0 692.9 L409.0 693.0"/>
<path class="l" stroke-width="1.7" d="M350.4 736.0 L355.0 736.0"/>
<path class="l" stroke-width="1.7" d="M355.0 736.0A2.25 2.25 0.4 0 1 359.5 736.0A2.25 2.25 0.4 0 1 364.0 736.1A2.25 2.25 0.4 0 1 368.5 736.1"/>
<path class="l" stroke-width="1.7" d="M368.5 736.1 L428.2 736.4"/>
<path class="l" stroke-width="1.7" d="M350.4 745.8 L378.0 746.0 L378.0 753.6"/>
<path class="l" stroke-width="1.7" d="M378.0 753.6A2.76 2.76 53.0 0 0 381.3 758.0A2.76 2.76 53.0 0 0 384.6 762.4A2.76 2.76 53.0 0 0 388.0 766.8A2.76 2.76 53.0 0 0 391.3 771.2A2.76 2.76 53.0 0 0 394.6 775.6"/>
<path class="l" stroke-width="1.7" d="M394.6 775.6 L398.0 778.0 L459.0 778.6 L459.0 749.0 L494.0 749.2"/>
<path class="d" stroke-width="1.5" stroke-dasharray="9.79 3.40" d="M467.2 712.4L556.0 713.0"/>
<path class="d" stroke-width="1.5" stroke-dasharray="10.96 3.40" d="M555.3 712.2L555.3 823.8"/>
<path class="d" stroke-width="1.5" stroke-dasharray="9.79 3.40" d="M556.0 823.0L467.2 822.4"/>
<path class="d" stroke-width="1.5" stroke-dasharray="10.96 3.40" d="M467.9 823.1L467.9 711.6"/>
<rect class="l" stroke-width="2.6" fill="#fff" x="494.4" y="739.2" width="48.7" height="56.2"/>
<path class="l" stroke-width="1.7" d="M478.1 725.0 L478.1 698.4 L503.0 698.5"/>
<path class="l" stroke-width="1.7" d="M503.0 698.5A2.25 2.25 0.4 0 1 507.5 698.5A2.25 2.25 0.4 0 1 512.0 698.6A2.25 2.25 0.4 0 1 516.5 698.6"/>
<path class="l" stroke-width="1.7" d="M516.5 698.6 L531.6 698.8 L531.6 739.0"/>
<path class="l" stroke-width="1.7" d="M478.1 725.0 L563.8 725.6 L563.8 646.0 L516.6 645.6 L516.8 633.0"/>
<path d="M504.6 721.2L504.6 729.4L511 725.3Z"/>
<path class="l" stroke-width="1.5" d="M511.2 721.0 L511.2 729.6"/>
<circle cx="478.1" cy="725.0" r="2.35"/>
<circle cx="531.6" cy="725.4" r="2.35"/>
<path class="l" stroke-width="1.7" d="M478.1 725.0 L478.1 776.8 L484.9 782.4"/>
<path class="l" stroke-width="1.7" d="M478.1 758.7 L494.0 758.8"/>
<circle cx="478.1" cy="758.7" r="2.35"/>
<path class="l" stroke-width="2" d="M484.9 780.4 L484.9 792.8"/>
<path class="l" stroke-width="1.7" d="M484.9 787.3 L494.0 787.4"/>
<path class="l" stroke-width="1.7" d="M484.9 790.8 L478.1 795.4 L478.0 814.6"/>
<circle cx="478.0" cy="814.6" r="2.35"/>
<path class="l" stroke-width="1.7" d="M543.2 746.4 L585.0 746.7"/>
<path class="l" stroke-width="1.7" d="M543.2 786.6 L585.0 787.6"/>
<text x="570.6" y="741.6">I</text>
<text x="567.6" y="782.4">S</text>
<path class="l" stroke-width="2" fill="#fff" d="M65 625.2L261.6 627.4L261.6 825L65 822.8Z"/>
<text x="73.6" y="638.2" style="font-size:11.6px">With voltage applied, generator is</text>
<text x="73.6" y="653.3" style="font-size:11.6px">activated, allowing current to flow</text>
<text x="73.6" y="668.3" style="font-size:11.6px">from sense A circuit to generator</text>
<text x="73.6" y="683.4" style="font-size:11.6px">field coil. Generates an AC output,</text>
<text x="73.6" y="698.5" style="font-size:11.6px">which is converted to a DC output</text>
<text x="73.6" y="713.6" style="font-size:11.6px">by a rectifier assembly internal to</text>
<text x="73.6" y="728.6" style="font-size:11.6px">generator, and is supplied to ve-</text>
<text x="73.6" y="743.7" style="font-size:11.6px">hicle through the B+ terminal. S</text>
<text x="73.6" y="758.8" style="font-size:11.6px">(stator) circuit is used to feed back</text>
<text x="73.6" y="773.8" style="font-size:11.6px">a voltage signal from generator to</text>
<text x="73.6" y="788.9" style="font-size:11.6px">regulator. This voltage (typically</text>
<text x="73.6" y="804.0" style="font-size:11.6px">half battery voltage), is used by</text>
<text x="73.6" y="819.0" style="font-size:11.6px">regulator to turn off indicator.</text>
<path class="l" stroke-width="1.7" d="M261.5 686.2 L300.0 698.8"/>
<path d="M313.2 703.2L296 703.8L299.4 693.2Z"/>
</svg>
<div id="top"></div>
<div id="sb"><div style="left:0;width:487px;border-left:none"></div><div style="left:490px;width:59px">04</div><div style="left:551px;width:247px">Ford</div><div style="left:800px;width:246px">Crown Victoria</div><div style="left:1047px;width:190px">V8-4.6L VIN W</div></div>
</body></html>
